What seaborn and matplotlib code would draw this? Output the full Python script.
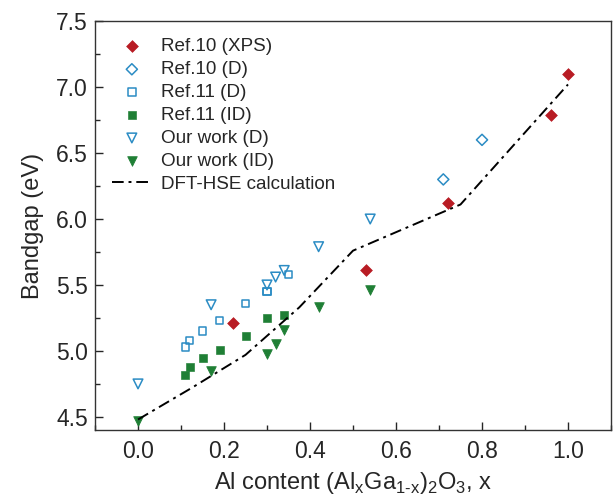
import numpy as np
import pandas as pd
import matplotlib as mpl
import matplotlib.pyplot as plt
import seaborn as sns
from matplotlib.ticker import MultipleLocator

# data
ref10_xps_x = [0.22, 0.53, 0.72, 0.96, 1.0]
ref10_xps_y = [5.21, 5.61, 6.12, 6.79, 7.10]

ref10_d_x = [0.71, 0.80]
ref10_d_y = [6.30, 6.60]

ref11_d_x = [0.11, 0.12, 0.15, 0.19, 0.25, 0.30, 0.30, 0.35]
ref11_d_y = [5.03, 5.08, 5.15, 5.23, 5.36, 5.45, 5.45, 5.58]

ref11_id_x = [0.11, 0.12, 0.15, 0.19, 0.25, 0.30, 0.34]
ref11_id_y = [4.82, 4.88, 4.95, 5.01, 5.11, 5.25, 5.27]

our_d_x = [0.0, 0.17, 0.30, 0.32, 0.34, 0.42, 0.54]
our_d_y = [4.75, 5.35, 5.50, 5.56, 5.61, 5.79, 6.00]

our_id_x = [0.0, 0.17, 0.30, 0.32, 0.34, 0.42, 0.54]
our_id_y = [4.47, 4.85, 4.98, 5.05, 5.16, 5.33, 5.46]

dft_x = [0.0, 0.125, 0.25, 0.375, 0.5, 0.75, 1.0]
dft_y = [4.48, 4.72, 4.97, 5.33, 5.76, 6.11, 7.02]

red = "#b81c24"
blue = "#2b8cc4"
green = "#1f7f35"

sns.set_style("ticks")
plt.rcParams["font.family"] = ["Liberation Sans", "DejaVu Sans"]
mpl.rcParams["axes.unicode_minus"] = False

fig = plt.figure(figsize=(6.15, 5.03), dpi=100)
ax = fig.add_axes([0.1545, 0.145, 0.839, 0.813])

sns.lineplot(x=dft_x, y=dft_y, ax=ax, color="black", lw=1.4,
             linestyle=(0, (6, 2.5, 1.5, 2.5)), label="DFT-HSE calculation")

sns.scatterplot(x=ref10_xps_x, y=ref10_xps_y, ax=ax, marker="D", s=36,
                color=red, edgecolor=red, label="Ref.10 (XPS)")
sns.scatterplot(x=ref10_d_x, y=ref10_d_y, ax=ax, marker="D", s=32,
                facecolor="none", edgecolor=blue, linewidth=1.1, label="Ref.10 (D)")
sns.scatterplot(x=ref11_d_x, y=ref11_d_y, ax=ax, marker="s", s=28,
                facecolor="none", edgecolor=blue, linewidth=1.1, label="Ref.11 (D)")
sns.scatterplot(x=ref11_id_x, y=ref11_id_y, ax=ax, marker="s", s=30,
                color=green, edgecolor=green, label="Ref.11 (ID)")
sns.scatterplot(x=our_d_x, y=our_d_y, ax=ax, marker="v", s=48,
                facecolor="none", edgecolor=blue, linewidth=1.1, label="Our work (D)")
sns.scatterplot(x=our_id_x, y=our_id_y, ax=ax, marker="v", s=48,
                color=green, edgecolor=green, label="Our work (ID)")

handles, labels = ax.get_legend_handles_labels()
order = [1, 2, 3, 4, 5, 6, 0]
ax.legend([handles[i] for i in order], [labels[i] for i in order],
          loc="upper left", frameon=False, fontsize=13.6, handlelength=2.1,
          handletextpad=0.5, labelspacing=0.3, borderaxespad=0.5,
          bbox_to_anchor=(0.0, 1.0))

ax.set_xlim(-0.1, 1.1)
ax.set_ylim(4.4, 7.5)
ax.xaxis.set_major_locator(MultipleLocator(0.2))
ax.xaxis.set_minor_locator(MultipleLocator(0.1))
ax.yaxis.set_major_locator(MultipleLocator(0.5))
ax.yaxis.set_minor_locator(MultipleLocator(0.25))
ax.tick_params(which="both", direction="in", labelsize=16.5, width=1.0)
ax.tick_params(which="major", length=6)
ax.tick_params(which="minor", length=3.5)
ax.tick_params(axis="x", which="major", pad=7)
ax.tick_params(axis="y", which="major", pad=5)
for s in ax.spines.values():
    s.set_linewidth(1.0)
    s.set_color("#333333")

ax.set_xlabel("Al content (Al$_\\mathregular{x}$Ga$_\\mathregular{1\u2010x}$)"
              "$_\\mathregular{2}$O$_\\mathregular{3}$, x",
              fontsize=17, labelpad=5)
ax.set_ylabel("Bandgap (eV)", fontsize=17, labelpad=9)

fig.savefig("out.png", dpi=100)
